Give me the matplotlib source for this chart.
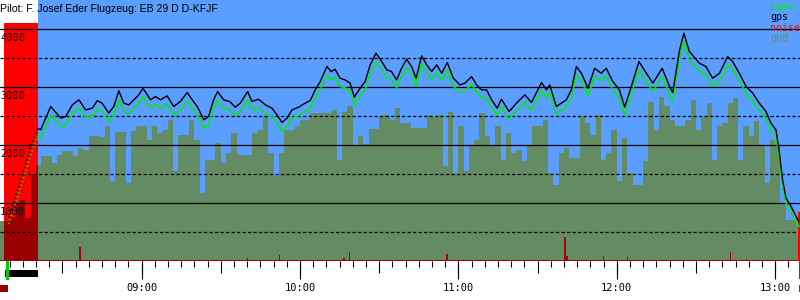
import numpy as np
import matplotlib
matplotlib.use("Agg")
import matplotlib.pyplot as plt
from matplotlib.ticker import MultipleLocator, FixedLocator, FuncFormatter
from matplotlib.patches import Rectangle
import matplotlib.transforms as mtransforms

# ---------------- data (time = minutes since 08:00, altitude in m) ----------------
title = "Pilot: F. Josef Eder Flugzeug: EB 29 D D-KFJF"

tow_start = 7.8
tow_end = 20.7
takeoff = 9.3
landing = 309.0
tow_top = 4100

hour_ticks = [60, 120, 180, 240, 300]

gps_t = [9.7, 13.1, 16.2, 18.8, 20.7, 21.8, 25.6, 29.4, 31.3, 33.8, 36.3, 38.8, 41.4, 43.3, 45.1,
         47.6, 49.5, 51.4, 53.3, 55.2, 57.1, 59.0, 60.5, 62.2, 63.4, 65.3, 67.2, 69.7, 72.2,
         74.7, 77.3, 79.2, 81.1, 83.6, 85.4, 87.3, 88.8, 91.1, 93.4, 95.5, 97.4, 100.2, 101.8,
         104.3, 106.9, 109.4, 111.3, 113.2, 115.1, 117.0, 119.5, 122.0, 123.9, 125.8, 127.7,
         130.2, 131.8, 133.3, 135.2, 137.1, 139.0, 140.6, 142.8, 144.7, 146.6, 148.8, 151.0,
         152.9, 154.7, 156.6, 158.5, 160.4, 162.3, 164.0, 166.1, 168.0, 169.9, 171.8, 173.7,
         175.8, 178.1, 180.6, 182.5, 185.0, 186.9, 188.8, 190.7, 192.6, 194.7, 196.3, 199.2,
         202.0, 205.2, 207.7, 211.5, 213.4, 214.6, 217.1, 220.9, 222.8, 224.7, 226.6, 229.1,
         231.6, 234.1, 236.0, 238.5, 241.0, 243.0, 245.5, 248.4, 251.2, 253.7, 257.2, 260.0,
         261.2, 263.8, 265.4, 267.5, 271.3, 273.8, 276.3, 278.9, 282.0, 283.9, 286.4, 289.0,
         291.5, 294.0, 296.5, 298.4, 300.3, 301.6, 302.8, 304.1, 306.0, 307.9, 308.9]
gps_v = [746, 1229, 1695, 2091, 2290, 2264, 2667, 2466, 2494, 2695, 2782, 2609, 2638, 2770, 2724,
         2552, 2667, 2937, 2724, 2695, 2782, 2868, 2983, 2868, 2782, 2839, 2782, 2850, 2667,
         2753, 2908, 2782, 2667, 2437, 2494, 2782, 2925, 2782, 2753, 2655, 2724, 2925, 2753,
         2793, 2695, 2638, 2523, 2391, 2466, 2609, 2655, 2724, 2770, 2954, 3098,
         3356, 3270, 3310, 3155, 3126, 3069, 2828, 2983, 3098, 3385, 3586, 3442,
         3299, 3270, 3126, 3327, 3483, 3356, 3155, 3540, 3385, 3270, 3385, 3241,
         3425, 3155, 3040, 3069, 3184, 3040, 2954, 2954, 2782, 2638, 2793, 2580,
         2724, 2868, 2736, 3080, 2954, 3040, 2667, 2782, 2954, 3356, 3241, 2983,
         3327, 3241, 3327, 3098, 2954, 2655, 3011, 3442, 3241, 3069, 3327, 3011,
         2908, 3644, 3931, 3615, 3414, 3356, 3155, 3241, 3529, 3442, 3241, 3011,
         2897, 2724, 2580, 2379, 2264, 1862, 1402, 1086, 943, 770, 684]
baro_v = [640, 1110, 1560, 1930, 2140, 2120, 2520, 2320, 2350, 2550, 2640, 2470, 2500, 2630, 2580,
          2410, 2520, 2790, 2580, 2550, 2640, 2720, 2840, 2720, 2640, 2700, 2640, 2710, 2520,
          2610, 2760, 2640, 2520, 2290, 2350, 2640, 2780, 2640, 2610, 2510, 2580, 2780, 2610,
          2650, 2550, 2490, 2380, 2250, 2320, 2470, 2510, 2580, 2630, 2810, 2960,
          3210, 3130, 3170, 3010, 2990, 2930, 2690, 2850, 2960, 3240, 3440, 3300,
          3160, 3130, 2990, 3190, 3350, 3220, 3020, 3410, 3250, 3140, 3250, 3110,
          3290, 3020, 2910, 2940, 3050, 2910, 2820, 2820, 2650, 2510, 2660, 2450,
          2590, 2740, 2600, 2950, 2820, 2910, 2540, 2650, 2820, 3220, 3110, 2850,
          3190, 3110, 3190, 2960, 2820, 2520, 2870, 3300, 3100, 2930, 3180, 2870,
          2770, 3500, 3790, 3470, 3280, 3220, 3020, 3100, 3390, 3300, 3110, 2880,
          2770, 2600, 2460, 2260, 2150, 1750, 1300, 990, 850, 680, 600]

gnd_t0 = 6
gnd_dt = 2
gnd_v = [684, 684, 760, 1000, 1060, 750, 1500, 1650, 1805, 1805, 1690, 1833, 1902, 1902, 1805,
         1948, 1920, 2150, 2150, 2138, 2333, 1373, 2235, 2235, 1345, 2247, 2322, 2322, 2092,
         2322, 2207, 2264, 2437, 1546, 2178, 2178, 2437, 2092, 1172, 1747, 1747, 2034, 1690,
         1862, 2207, 1833, 1833, 1833, 2207, 2264, 2494, 1862, 1460, 1862, 2264, 2264, 2322,
         2437, 2437, 2552, 2552, 2552, 2552, 2609, 1747, 2580, 2667, 1977, 2161, 2023, 2276,
         2276, 2494, 2523, 2437, 2638, 2379, 2379, 2300, 2293, 2293, 2523, 2494, 2523, 1632,
         2580, 1517, 2322, 1546, 1977, 2092, 2552, 2150, 1977, 2322, 1747, 2207, 1862, 1920,
         1718, 1977, 2322, 2322, 2437, 1517, 1316, 1862, 1948, 1776, 1776, 2494, 2379, 2178,
         2523, 1747, 1862, 2264, 1373, 2121, 1517, 1316, 1316, 1718, 2753, 2264, 2839, 2667,
         2437, 2322, 2322, 2437, 2782, 2264, 2494, 2724, 1747, 2322, 2379, 2724, 2810, 1747,
         2322, 2150, 2408, 1977, 1345, 2092, 1977, 1000, 713, 713, 598]

noise_floor = 25
noise_t = [36.6, 46.4, 100.1, 112.3, 136.8, 138.7, 175.8, 220.5, 221.1, 234.9, 244.0, 283.1, 289.2]
noise_v = [247, 40, 50, 109, 57, 148, 126, 407, 91, 91, 74, 148, 40]
noise_end_t = 308.9
noise_end_v = 850

y_grid_solid = [1000, 2000, 3000, 4000]
y_grid_dashed = [500, 1500, 2500, 3500]
y_labels = ["1000", "2000", "3000", "4000"]

# ---------------- style ----------------
SKY = "#5a9eff"
GND = "#648c64"
TOW = "#ff0000"
DARKRED = "#9b0000"
NOISE = "#aa0000"
BARO = "#00ee00"
GPS = "#000000"

XMIN, XMAX = 6.4, 309.4
YMIN, YMAX = 0, 4505

fig = plt.figure(figsize=(8, 3), dpi=100)
fig.patch.set_facecolor("white")
ax = fig.add_axes([0, 39 / 300, 1, 261 / 300])
ax.set_facecolor("white")
ax.set_xlim(XMIN, XMAX)
ax.set_ylim(YMIN, YMAX)

gnd_t = gnd_t0 + gnd_dt * np.arange(len(gnd_v))
gnd_t_ext = np.append(gnd_t, gnd_t[-1] + gnd_dt)
gnd_v_ext = np.append(gnd_v, gnd_v[-1])

# sky after tow
ax.axvspan(tow_end, XMAX, color=SKY, zorder=0, lw=0)
# ground
ax.fill_between(gnd_t_ext, 0, gnd_v_ext, step="post", color=GND, lw=0, zorder=1)
# tow zone
ax.fill_between([tow_start, tow_end], 0, tow_top, color=TOW, lw=0, zorder=2)
clip = Rectangle((tow_start, 0), tow_end - tow_start, tow_top, transform=ax.transData,
                 facecolor="none", edgecolor="none")
ax.add_patch(clip)
red_gnd = ax.fill_between(gnd_t_ext, 0, gnd_v_ext, step="post", color=DARKRED, lw=0, zorder=3)
red_gnd.set_clip_path(clip)

# grid
for v in y_grid_solid:
    ax.axhline(v, color="black", lw=0.9, zorder=4)
for v in y_grid_dashed:
    ax.axhline(v, color="black", lw=0.9, zorder=4, dashes=(2.6, 1.8))

# noise
ax.fill_between([XMIN, XMAX], 0, noise_floor, color=NOISE, lw=0, zorder=5)
ax.bar(noise_t, noise_v, width=0.6, color=NOISE, lw=0, zorder=5, align="center")
ax.bar([noise_end_t], [noise_end_v], width=0.7, color=TOW, lw=0, zorder=5)

# lines
gps_t_a = np.array(gps_t)
gps_v_a = np.array(gps_v)
baro_v_a = np.array(baro_v)
tow = gps_t_a <= tow_end
flight = gps_t_a >= tow_end
ax.plot(gps_t_a[tow], baro_v_a[tow], color=BARO, lw=1.2, dashes=(0.8, 1.6), zorder=6)
ax.plot(gps_t_a[tow], gps_v_a[tow], color=GPS, lw=1.2, dashes=(0.8, 1.6), zorder=7)
ax.plot(gps_t_a[flight], baro_v_a[flight], color=BARO, lw=1.1, zorder=6)
ax.plot(gps_t_a[flight], gps_v_a[flight], color=GPS, lw=1.0, zorder=7)

# y labels inside
ytrans = mtransforms.blended_transform_factory(ax.transAxes, ax.transData)
for v, s in zip(y_grid_solid, y_labels):
    ax.annotate(s, xy=(0, v), xycoords=ytrans, xytext=(0, -2.5), textcoords="offset points",
                ha="left", va="top", fontsize=7.5, family="DejaVu Sans Mono", zorder=8)

# spines/ticks
for sp in ax.spines.values():
    sp.set_visible(False)
ax.yaxis.set_visible(False)
ax.xaxis.set_major_locator(MultipleLocator(30))
ax.xaxis.set_minor_locator(MultipleLocator(5))
ax.tick_params(axis="x", which="major", length=8.6, width=0.8, labelbottom=False)
ax.tick_params(axis="x", which="minor", length=4.3, width=0.8)

def fmt(m, pos):
    h = 8 + int(round(m)) // 60
    mm = int(round(m)) % 60
    return f"{h:02d}:{mm:02d}"

sec = ax.secondary_xaxis("bottom")
sec.xaxis.set_major_locator(FixedLocator(hour_ticks))
sec.xaxis.set_minor_locator(plt.NullLocator())
sec.xaxis.set_major_formatter(FuncFormatter(fmt))
sec.tick_params(axis="x", which="major", length=13, width=0.8, pad=2.5, labelsize=7.5)
for lab in sec.get_xticklabels():
    lab.set_family("DejaVu Sans Mono")
sec.spines["bottom"].set_visible(False)

# event markers below the axis
btrans = mtransforms.blended_transform_factory(ax.transData, ax.transAxes)
ax.add_patch(Rectangle((XMIN, -0.119), takeoff - XMIN, 0.027, transform=btrans,
                       color=DARKRED, lw=0, clip_on=False))
ax.add_patch(Rectangle((tow_start + 0.5, -0.061), tow_end - tow_start - 0.5, 0.027,
                       transform=btrans, color="black", lw=0, clip_on=False))
ax.add_patch(Rectangle((takeoff - 0.5, -0.073), 1.1, 0.073, transform=btrans,
                       color="#00cc00", lw=0, clip_on=False, zorder=9))
ax.add_patch(Rectangle((landing, -0.069), XMAX - landing, 0.069, transform=btrans,
                       color=TOW, lw=0, clip_on=False))
ax.add_patch(Rectangle((landing, -0.119), XMAX - landing, 0.027, transform=btrans,
                       color=TOW, lw=0, clip_on=False))

# title and legend
fig.text(0.0, 1 - 8.5 / 300, title, ha="left", va="center", fontsize=7.6,
         family="Liberation Sans")
legend_items = [("baro", BARO), ("gps", "black"), ("noise", TOW), ("gnd", "#6e8c64")]
for i, (s, c) in enumerate(legend_items):
    fig.text(770 / 800, 1 - (7 + i * 10.3) / 300, s, ha="left", va="center", fontsize=7.2,
             family="DejaVu Sans Mono", color=c)

fig.savefig("out.png", dpi=100)
